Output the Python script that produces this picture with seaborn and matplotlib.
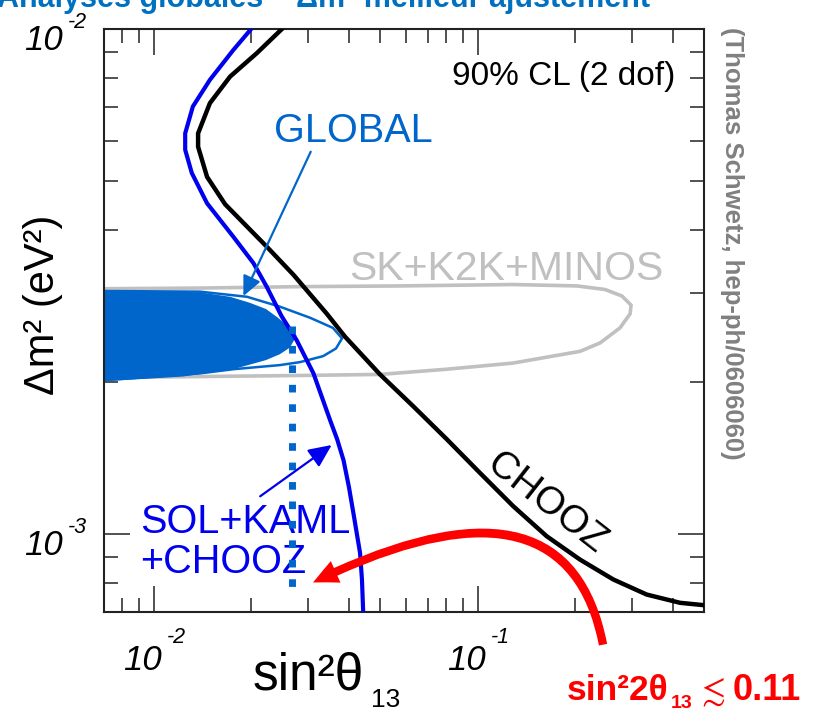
import numpy as np
import matplotlib
matplotlib.use("Agg")
import matplotlib.pyplot as plt
import matplotlib.ticker as mticker
import seaborn as sns

# ---- data (sin^2 theta13, delta m^2 in eV^2) ----
chooz_s2 = [0.0252, 0.0208, 0.0172, 0.0149, 0.0137, 0.0137, 0.0146, 0.0166, 0.0198, 0.0223,
            0.0270, 0.0342, 0.0389, 0.0499, 0.0632, 0.0802, 0.1016, 0.1287, 0.1632, 0.2068,
            0.2619, 0.3321, 0.4207, 0.50]
chooz_dm2 = [0.0101, 0.00897, 0.00806, 0.00714, 0.00622, 0.00585, 0.00510, 0.00450, 0.00401, 0.00371,
             0.00326, 0.00273, 0.00246, 0.00207, 0.00179, 0.00154, 0.00132, 0.001134, 0.000989, 0.000889,
             0.000812, 0.000758, 0.000730, 0.000722]

sol_s2 = [0.0202, 0.0176, 0.0149, 0.0132, 0.0125, 0.0125, 0.0131, 0.0146, 0.0176, 0.0203,
          0.0223, 0.0248, 0.0276, 0.0311, 0.0350, 0.0368, 0.0385, 0.0400, 0.0413, 0.0433,
          0.0439, 0.0443]
sol_dm2 = [0.0101, 0.00910, 0.00794, 0.00703, 0.00622, 0.00577, 0.00519, 0.00452, 0.00388, 0.00344,
           0.00309, 0.00270, 0.00242, 0.00208, 0.00168, 0.00154, 0.00140, 0.00124, 0.00110, 0.000917,
           0.000812, 0.000695]

sk_s2 = [0.0065, 0.0139, 0.0283, 0.0575, 0.1284, 0.2024, 0.2470, 0.2786, 0.2971, 0.2951,
         0.2747, 0.2384, 0.2068, 0.1284, 0.0804, 0.0499, 0.0283, 0.0139, 0.0065]
sk_dm2 = [0.00306, 0.00307, 0.00309, 0.00310, 0.00312, 0.00310, 0.00305, 0.00296, 0.00284, 0.00273,
          0.00256, 0.00239, 0.00230, 0.00218, 0.00212, 0.00207, 0.00206, 0.00205, 0.00204]

glob_out_s2 = [0.0065, 0.0139, 0.0194, 0.0245, 0.0304, 0.0357, 0.0381, 0.0365, 0.0333, 0.0283,
               0.0245, 0.0176, 0.0139, 0.0065]
glob_out_dm2 = [0.00303, 0.00302, 0.00295, 0.00282, 0.00268, 0.00256, 0.00244, 0.00233, 0.00225, 0.00219,
                0.00216, 0.00212, 0.00208, 0.00201]

glob_s2 = [0.0065, 0.0097, 0.0139, 0.0172, 0.0198, 0.0222, 0.0240, 0.0258, 0.0276, 0.0263,
           0.0245, 0.0222, 0.0176, 0.0123, 0.0065]
glob_dm2 = [0.00303, 0.00303, 0.00301, 0.00295, 0.00287, 0.00279, 0.00269, 0.00259, 0.00247, 0.00234,
            0.00227, 0.00221, 0.00212, 0.00205, 0.00200]

best_s2 = 0.0267
best_dm2_range = [0.00258, 0.000774]

x_ticks = [0.01, 0.1]
y_ticks = [0.001, 0.01]

# arrows: (tail, head)
global_arrow = [(0.0305, 0.00572), (0.0189, 0.00296)]
sol_arrow = [(0.0213, 0.001187), (0.0354, 0.00150)]
red_arrow = [(0.2435, 0.000603), (0.0310, 0.000801)]

sns.set_theme(style="ticks")
plt.rcParams["font.family"] = ["Liberation Sans", "DejaVu Sans"]
plt.rcParams.update({
    "text.color": "black",
    "mathtext.fontset": "custom",
    "mathtext.rm": "Liberation Sans",
    "mathtext.it": "Liberation Sans:italic",
    "mathtext.bf": "Liberation Sans:bold",
    "mathtext.fallback": "stixsans",
})

W, H = 821, 711
fig = plt.figure(figsize=(W / 100, H / 100), dpi=100)
fig.patch.set_facecolor("white")
ax = fig.add_axes([103.6 / W, 1 - 612 / H, 600.7 / W, 582.7 / H])
ax.set_facecolor("white")

def fx(px):
    return px / W

def fy(py):
    return 1 - py / H

def axpos(px, py):
    return (px - 103.6) / 600.7, (612 - py) / 582.7

# contours
ax.fill(sk_s2, sk_dm2, fc="none", ec="#c0c0c0", lw=2.6, zorder=1)
ax.fill(glob_out_s2, glob_out_dm2, fc="none", ec="#0066cc", lw=1.8, zorder=2)
ax.fill(glob_s2, glob_dm2, fc="#0066cc", lw=0, zorder=2)

sns.lineplot(x=chooz_s2, y=chooz_dm2, sort=False, estimator=None, color="black", lw=3.2, ax=ax, zorder=4)
sns.lineplot(x=sol_s2, y=sol_dm2, sort=False, estimator=None, color="#0000ee", lw=3.0, ax=ax, zorder=4)
ax.plot([best_s2, best_s2], best_dm2_range, color="#0066cc", lw=5, ls=(0, (1.1, 1.7)), zorder=5)

ax.set_xscale("log")
ax.set_yscale("log")
ax.set_xlim(0.007, 0.5)
ax.set_ylim(7e-4, 1e-2)

for axis in (ax.xaxis, ax.yaxis):
    axis.set_major_locator(mticker.LogLocator(base=10, numticks=10))
    axis.set_minor_locator(mticker.LogLocator(base=10, subs=np.arange(2, 10), numticks=20))
    axis.set_major_formatter(mticker.NullFormatter())
    axis.set_minor_formatter(mticker.NullFormatter())

ax.tick_params(which="major", direction="in", length=19, width=1.1, top=True, right=True, color="#222222")
ax.tick_params(which="minor", direction="in", length=10, width=1.1, top=True, right=True, color="#222222")
for sp in ax.spines.values():
    sp.set_linewidth(1.5)
    sp.set_color("#222222")

# italic tick labels  10^n
for v in x_ticks:
    e = int(round(np.log10(v)))
    ax.annotate("10", xy=(v, 0), xycoords=("data", "axes fraction"), xytext=(5.8, -41.8),
                textcoords="offset points", ha="right", va="baseline", fontsize=25, fontstyle="italic",
                color="black")
    ax.annotate(str(e), xy=(v, 0), xycoords=("data", "axes fraction"), xytext=(9.4, -22.3),
                textcoords="offset points", ha="left", va="baseline", fontsize=15.5, fontstyle="italic",
                color="black")
for v in y_ticks:
    e = int(round(np.log10(v)))
    ax.annotate("10", xy=(0, v), xycoords=("axes fraction", "data"), xytext=(-29.2, -15.1),
                textcoords="offset points", ha="right", va="baseline", fontsize=25, fontstyle="italic",
                color="black", annotation_clip=False)
    ax.annotate(str(e), xy=(0, v), xycoords=("axes fraction", "data"), xytext=(-25.6, 0.7),
                textcoords="offset points", ha="left", va="baseline", fontsize=15.5, fontstyle="italic",
                color="black", annotation_clip=False)

# annotations inside the plot
ax.text(*axpos(353, 141.7), "GLOBAL", transform=ax.transAxes,
        ha="center", va="baseline", fontsize=28.5, color="#0066cc")
ax.text(*axpos(675, 85), "90% CL (2 dof)", transform=ax.transAxes,
        ha="right", va="baseline", fontsize=24, color="black")
ax.text(*axpos(663, 280), "SK+K2K+MINOS", transform=ax.transAxes,
        ha="right", va="baseline", fontsize=29.5, color="#c0c0c0")
ax.text(*axpos(140, 533), "SOL+KAML", transform=ax.transAxes,
        ha="left", va="baseline", fontsize=28.5, color="#0000ee")
ax.text(*axpos(140, 573.3), "+CHOOZ", transform=ax.transAxes,
        ha="left", va="baseline", fontsize=28.5, color="#0000ee")
ax.text(*axpos(546, 503), "CHOOZ", transform=ax.transAxes,
        ha="center", va="center", rotation=-38, rotation_mode="anchor", fontsize=28, color="black")

ax.annotate("", xy=global_arrow[1], xytext=global_arrow[0],
            arrowprops=dict(arrowstyle="-|>,head_length=0.6,head_width=0.28", color="#0066cc",
                            lw=1.6, mutation_scale=20, shrinkA=0, shrinkB=0), zorder=6)
ax.annotate("", xy=sol_arrow[1], xytext=sol_arrow[0],
            arrowprops=dict(arrowstyle="-|>,head_length=0.7,head_width=0.32", color="#0000ee",
                            lw=1.6, mutation_scale=20, shrinkA=0, shrinkB=0), zorder=6)
ax.annotate("", xy=red_arrow[1], xytext=red_arrow[0], annotation_clip=False,
            arrowprops=dict(arrowstyle="simple,tail_width=0.3,head_width=0.85,head_length=0.9",
                            connectionstyle="angle3,angleA=101,angleB=26", fc="#ff0000", ec="#ff0000",
                            lw=0, mutation_scale=20, shrinkA=0, shrinkB=0), zorder=7)

# axis labels
fig.text(fx(253), fy(690), "sin²θ", ha="left", va="baseline", fontsize=37, color="black")
fig.text(fx(371), fy(707), "13", ha="left", va="baseline", fontsize=19, color="black")
fig.text(fx(43), fy(305), "Δm² (eV²)", rotation=90, ha="center", va="center", fontsize=30, color="black")

# red limit text
fig.text(fx(567), fy(700), "sin²2θ", ha="left", va="baseline", fontsize=25.5, fontweight="bold", color="#ff0000")
fig.text(fx(671), fy(708), "13", ha="left", va="baseline", fontsize=14, fontweight="bold", color="#ff0000")
fig.text(fx(696), fy(700), r"$\lesssim$", ha="left", va="baseline", fontsize=25, color="#ff0000")
fig.text(fx(733), fy(700), "0.11", ha="left", va="baseline", fontsize=26, fontweight="bold", color="#ff0000")

# source and header
fig.text(fx(732), fy(243), "(Thomas Schwetz, hep-ph/0606060)", rotation=-90, ha="center", va="center",
         fontsize=18.5, fontweight="bold", color="#808080")
fig.text(fx(-3), fy(7), "Analyses globales – Δm² meilleur ajustement", ha="left", va="baseline",
         fontsize=22, fontweight="bold", color="#0070c0")

fig.savefig("out.png", dpi=100)
